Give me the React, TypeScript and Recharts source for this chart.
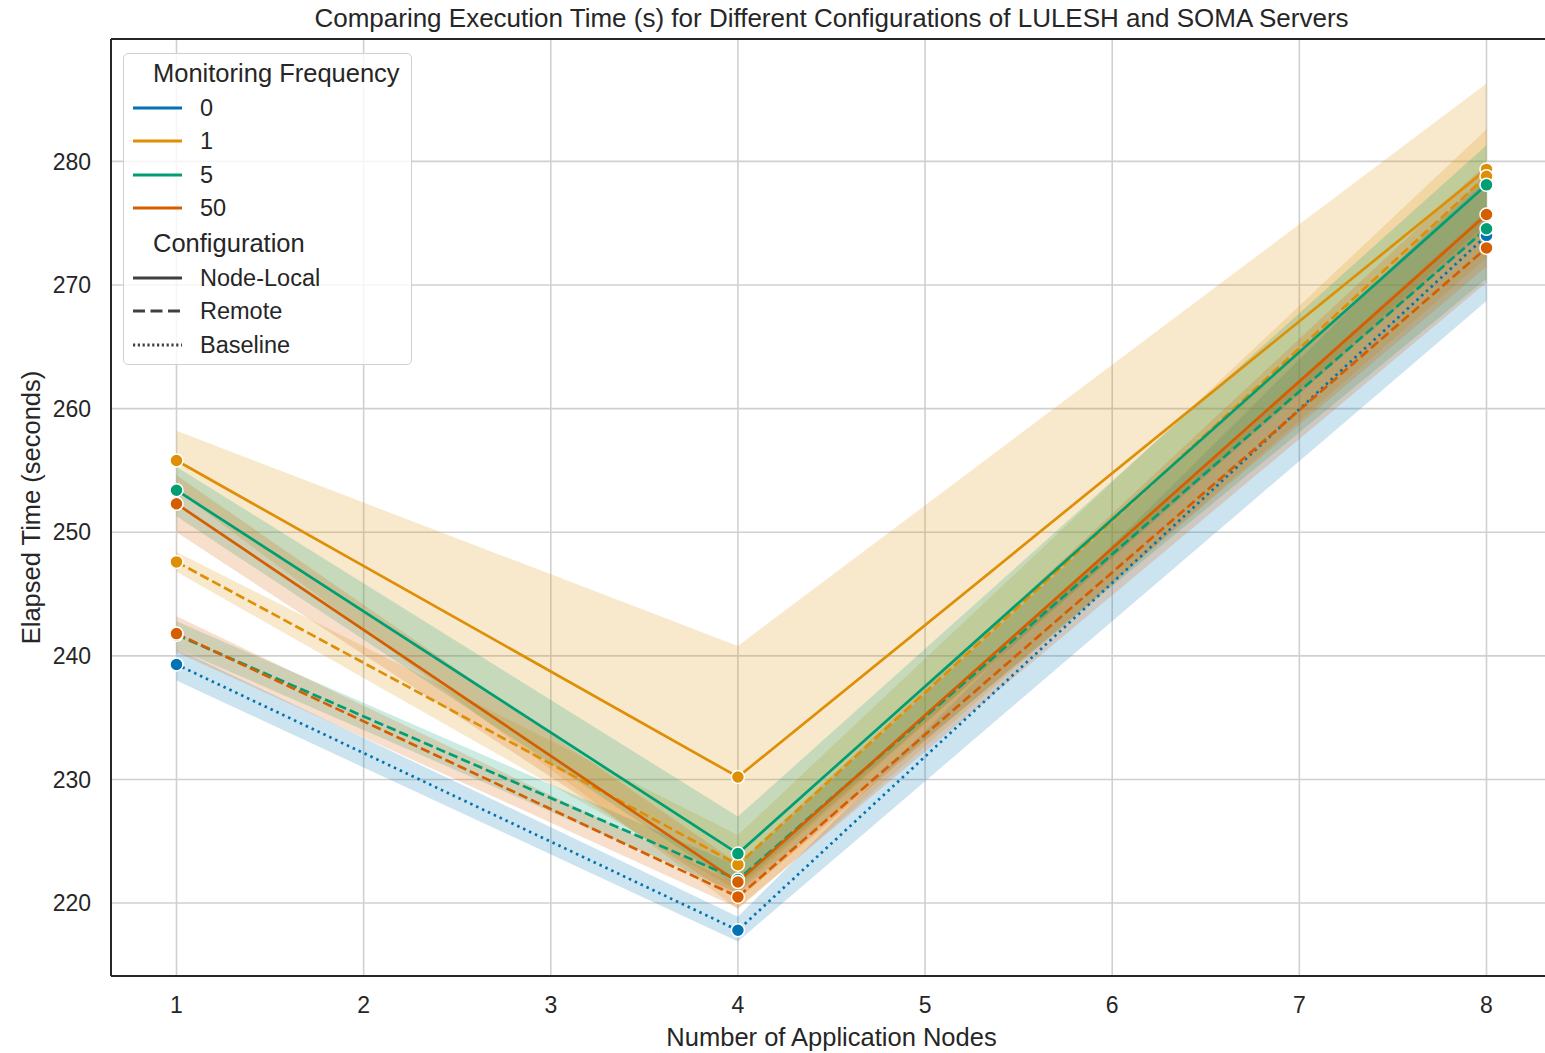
import React from "react";
import {
  ComposedChart,
  Line,
  Area,
  XAxis,
  YAxis,
  CartesianGrid,
  ReferenceLine,
} from "recharts";

// ── Data ────────────────────────────────────────────────────────────

const nodes = [1, 4, 8];
const xTicks = [1, 2, 3, 4, 5, 6, 7, 8];
const yTicks = [220, 230, 240, 250, 260, 270, 280];

const f0Baseline = [239.3, 217.8, 274.0];
const f0BaselineBand = [[238.0, 240.6], [216.9, 218.9], [268.7, 279.0]];

const f1Local = [255.8, 230.2, 279.35];
const f1LocalBand = [[253.4, 258.2], [219.5, 240.8], [272.2, 286.3]];

const f1Remote = [247.6, 223.1, 278.8];
const f1RemoteBand = [[246.8, 248.4], [221.0, 225.5], [275.0, 282.6]];

const f5Local = [253.4, 224.0, 278.1];
const f5LocalBand = [[251.3, 255.3], [221.3, 227.0], [274.5, 281.3]];

const f5Remote = [241.7, 221.9, 274.55];
const f5RemoteBand = [[240.6, 242.8], [220.8, 223.0], [270.5, 278.5]];

const f50Local = [252.3, 221.7, 275.7];
const f50LocalBand = [[250.0, 254.6], [220.3, 223.2], [271.5, 279.8]];

const f50Remote = [241.8, 220.5, 273.0];
const f50RemoteBand = [[240.3, 243.2], [219.6, 221.5], [270.2, 276.0]];

// ── Styles ──────────────────────────────────────────────────────────

const COLORS = {
  blue: "#0173b2",
  orange: "#de8f05",
  green: "#029e73",
  red: "#d55e00",
};

const DASH = "9.5 4";
const DOT = "2.5 4";

const SERIES = [
  { key: "f0b", values: f0Baseline, band: f0BaselineBand, color: COLORS.blue, dash: DOT },
  { key: "f1l", values: f1Local, band: f1LocalBand, color: COLORS.orange, dash: undefined },
  { key: "f1r", values: f1Remote, band: f1RemoteBand, color: COLORS.orange, dash: DASH },
  { key: "f5l", values: f5Local, band: f5LocalBand, color: COLORS.green, dash: undefined },
  { key: "f5r", values: f5Remote, band: f5RemoteBand, color: COLORS.green, dash: DASH },
  { key: "f50l", values: f50Local, band: f50LocalBand, color: COLORS.red, dash: undefined },
  { key: "f50r", values: f50Remote, band: f50RemoteBand, color: COLORS.red, dash: DASH },
];

const rows = nodes.map((n, i) => {
  const row: Record<string, number | number[]> = { n };
  SERIES.forEach((s) => {
    row[s.key] = s.values[i];
    row[s.key + "_band"] = s.band[i];
  });
  return row;
});

const FONT = "'Liberation Sans', Arial, sans-serif";
const TEXT = "#262626";
const SPINE = "#262626";

const freqLegend = [
  { label: "0", color: COLORS.blue },
  { label: "1", color: COLORS.orange },
  { label: "5", color: COLORS.green },
  { label: "50", color: COLORS.red },
];

const configLegend = [
  { label: "Node-Local", dash: undefined },
  { label: "Remote", dash: "12 5.5" },
  { label: "Baseline", dash: "2.2 2.6" },
];

function Handle({ color, dash }: { color: string; dash?: string }) {
  return (
    <svg width={52} height={10} style={{ position: "absolute", left: 8, top: -5 }}>
      <line x1={1} y1={5} x2={50} y2={5} stroke={color} strokeWidth={3} strokeDasharray={dash} />
    </svg>
  );
}

function LegendBox() {
  const row = (y: number, content: React.ReactNode, key: string) => (
    <div key={key} style={{ position: "absolute", left: 0, top: y, width: "100%", height: 0 }}>
      {content}
    </div>
  );
  const label = (text: string) => (
    <span style={{ position: "absolute", left: 76, top: -15, fontSize: 23.5, lineHeight: "30px", whiteSpace: "nowrap" }}>
      {text}
    </span>
  );
  const title = (text: string) => (
    <span style={{ position: "absolute", left: 29, top: -15, fontSize: 25.5, lineHeight: "30px", whiteSpace: "nowrap" }}>
      {text}
    </span>
  );
  return (
    <div
      style={{
        position: "absolute",
        left: 123,
        top: 53,
        width: 289,
        height: 312,
        border: "1px solid #d0d0d0",
        borderRadius: 5,
        background: "rgba(255,255,255,0.8)",
        fontFamily: FONT,
        color: TEXT,
        boxSizing: "border-box",
      }}
    >
      {row(19, title("Monitoring Frequency"), "t1")}
      {freqLegend.map((f, i) =>
        row(54 + i * 33.4, <>
          <Handle color={f.color} />
          {label(f.label)}
        </>, "f" + i)
      )}
      {row(189, title("Configuration"), "t2")}
      {configLegend.map((c, i) =>
        row(224 + i * 33.4, <>
          <Handle color="#404040" dash={c.dash} />
          {label(c.label)}
        </>, "c" + i)
      )}
    </div>
  );
}

export default function App() {
  return (
    <div
      style={{
        position: "absolute",
        left: 0,
        top: 0,
        width: 1545,
        height: 1053,
        overflow: "hidden",
        background: "#fff",
        fontFamily: FONT,
      }}
    >
      <div
        style={{
          position: "absolute",
          left: 111,
          width: 1441,
          top: 3,
          textAlign: "center",
          fontSize: 26,
          lineHeight: "30px",
          color: TEXT,
          whiteSpace: "nowrap",
        }}
      >
        Comparing Execution Time (s) for Different Configurations of LULESH and SOMA Servers
      </div>
      <div style={{ position: "absolute", left: 0, top: 0 }}>
        <ComposedChart
          width={1570}
          height={1053}
          data={rows}
          margin={{ top: 39, right: 18, left: 0, bottom: 0 }}
        >
          <CartesianGrid stroke="#d0d0d0" strokeWidth={1.6} horizontal vertical />
          <XAxis
            dataKey="n"
            type="number"
            domain={[0.65, 8.35]}
            ticks={xTicks}
            allowDataOverflow
            height={77}
            tickLine={false}
            axisLine={{ stroke: SPINE, strokeWidth: 2 }}
            tick={{ fill: TEXT, fontSize: 23, fontFamily: FONT, dy: 13 }}
            label={{
              value: "Number of Application Nodes",
              position: "insideBottom",
              offset: 7,
              fill: TEXT,
              fontSize: 25.5,
              fontFamily: FONT,
            }}
          />
          <YAxis
            type="number"
            domain={[214.1, 289.9]}
            ticks={yTicks}
            allowDataOverflow
            width={111}
            tickLine={false}
            axisLine={{ stroke: SPINE, strokeWidth: 2 }}
            tick={{ fill: TEXT, fontSize: 23, fontFamily: FONT, dx: -12 }}
            label={{
              value: "Elapsed Time (seconds)",
              angle: -90,
              position: "insideLeft",
              offset: 31,
              style: { textAnchor: "middle" },
              fill: TEXT,
              fontSize: 25.5,
              fontFamily: FONT,
            }}
          />
          <ReferenceLine y={289.9} stroke={SPINE} strokeWidth={2} />
          {SERIES.map((s) => (
            <Area
              key={s.key + "_band"}
              type="linear"
              dataKey={s.key + "_band"}
              stroke="none"
              fill={s.color}
              fillOpacity={0.2}
              dot={false}
              activeDot={false}
              isAnimationActive={false}
            />
          ))}
          {SERIES.map((s) => (
            <Line
              key={s.key}
              type="linear"
              dataKey={s.key}
              stroke={s.color}
              strokeWidth={2.7}
              strokeDasharray={s.dash}
              dot={{ r: 6.5, fill: s.color, stroke: "#fff", strokeWidth: 1.5, strokeDasharray: "none" }}
              activeDot={false}
              isAnimationActive={false}
            />
          ))}
        </ComposedChart>
      </div>
      <LegendBox />
    </div>
  );
}
